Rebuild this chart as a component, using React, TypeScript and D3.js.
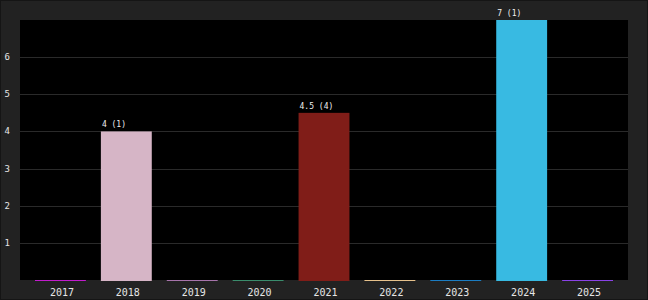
import React from "react";
import * as d3 from "d3";

const years = ["2017", "2018", "2019", "2020", "2021", "2022", "2023", "2024", "2025"];
const values = [0, 4, 0, 0, 4.5, 0, 0, 7, 0];
const counts = [0, 1, 0, 0, 4, 0, 0, 1, 0];
const colors = ["#c21ccc", "#d6b5c6", "#a774ab", "#3a8c6c", "#801d18", "#e6c18c", "#1b7cc2", "#38bae2", "#8a42e6"];
const yTicks = [1, 2, 3, 4, 5, 6];

const W = 648;
const H = 300;
const margin = { left: 20, right: 20, top: 20, bottom: 20 };

export default function App() {
  const x = d3
    .scaleBand<string>()
    .domain(years)
    .range([margin.left, W - margin.right])
    .paddingInner(0.2276)
    .paddingOuter(0.2276);
  const y = d3.scaleLinear().domain([0, 7]).range([H - margin.bottom, margin.top]);
  const font = "'DejaVu Sans Mono', monospace";

  return (
    <svg
      width={W}
      height={H}
      style={{ position: "absolute", left: 0, top: 0, display: "block" }}
    >
      <rect x={0.5} y={0.5} width={W - 1} height={H - 1} fill="#222222" stroke="#151515" strokeWidth={1} />
      <rect
        x={margin.left}
        y={margin.top}
        width={W - margin.left - margin.right}
        height={H - margin.top - margin.bottom}
        fill="#000000"
      />
      {yTicks.map((t) => (
        <g key={t}>
          <line
            x1={margin.left}
            x2={W - margin.right}
            y1={Math.round(y(t)) + 0.5}
            y2={Math.round(y(t)) + 0.5}
            stroke="#2a2a2a"
            strokeWidth={1}
          />
          <text x={4.5} y={Math.round(y(t)) + 2.5} fill="#e6e6e6" fontFamily={font} fontSize={9}>
            {t}
          </text>
        </g>
      ))}
      {years.map((yr, i) => {
        const v = values[i];
        const x0 = x(yr)!;
        const top = y(v);
        const base = y(0);
        return (
          <g key={yr}>
            <rect x={x0} y={top} width={x.bandwidth()} height={base - top + 1} fill={colors[i]} />
            {v > 0 && (
              <text x={x0 + 1} y={top - 4} fill="#f0f0f0" fontFamily={font} fontSize={8}>
                {`${v} (${counts[i]})`}
              </text>
            )}
            <text
              x={x0 + x.bandwidth() / 2 + 1.5}
              y={296}
              fill="#e6e6e6"
              fontFamily={font}
              fontSize={10}
              textAnchor="middle"
            >
              {yr}
            </text>
          </g>
        );
      })}
    </svg>
  );
}
